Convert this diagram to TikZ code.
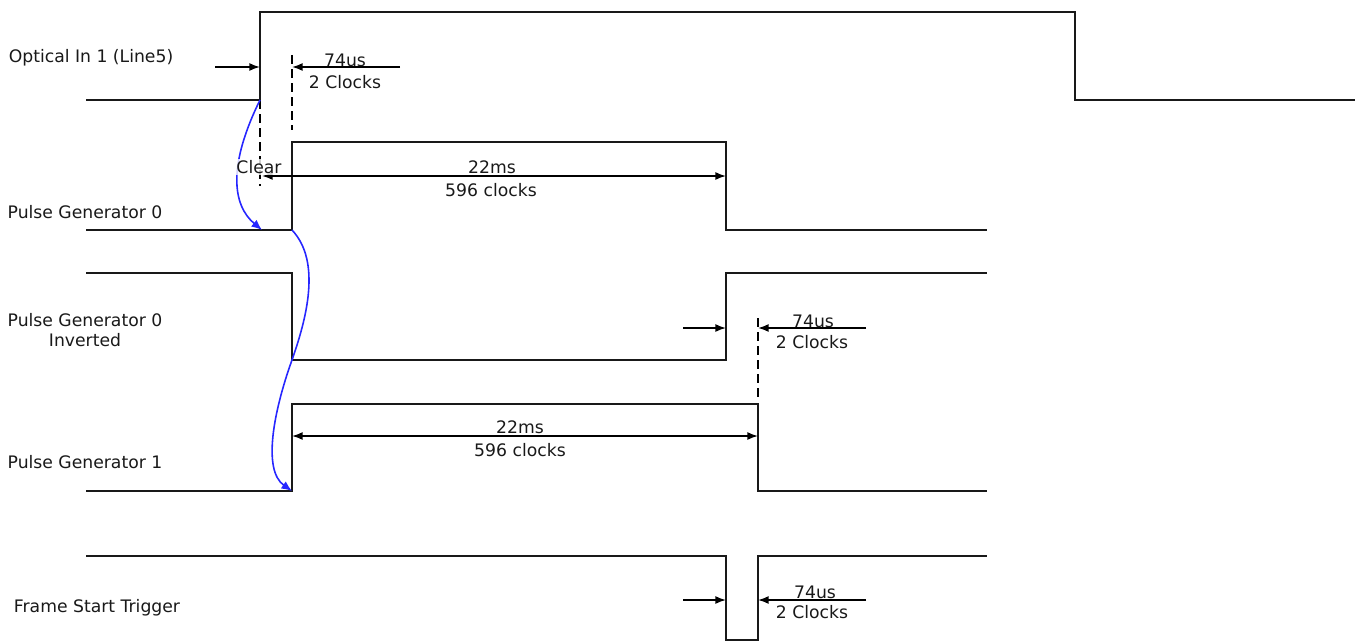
\documentclass[tikz,border=0pt]{standalone}
\usepackage{fontspec}
\setmainfont{DejaVu Sans}
\usetikzlibrary{arrows.meta,calc}
\definecolor{WaveClr}{rgb}{0.1,0.1,0.1}
\definecolor{CurveClr}{rgb}{0.15,0.15,1}

\begin{document}
\begin{tikzpicture}[x=0.02cm,y=-0.02cm,
  wave/.style={line width=1.1pt,color=WaveClr},
  tipline/.style={line width=0.9pt,-{Latex[length=6pt,width=4.5pt]}},
  dimline/.style={line width=0.9pt,{Latex[length=6pt,width=4.5pt]}-{Latex[length=6pt,width=4.5pt]}},
  guide/.style={line width=0.9pt,dash pattern=on 5pt off 3pt},
  cause/.style={line width=0.9pt,color=CurveClr,-{Latex[length=6pt,width=5pt]}},
  txt/.style={font=\fontsize{9.8}{11.5}\selectfont,text=WaveClr,inner sep=1pt,align=center}]
\useasboundingbox (0,0) rectangle (1362,642);

% signal names
\node[txt] (nOpt) at (91,58) {Optical In 1 (Line5)};
\node[txt] (nPg0) at (85,212) {Pulse Generator 0};
\node[txt] (nPgi) at (85,330) {Pulse Generator 0\\Inverted};
\node[txt] (nPg1) at (85,462) {Pulse Generator 1};
\node[txt] (nFst) at (97,608) {Frame Start Trigger};

% Optical In 1
\coordinate (oA) at (86,100);  \coordinate (oB) at (260,100);
\coordinate (oC) at (260,12);  \coordinate (oD) at (1075,12);
\coordinate (oE) at (1075,100); \coordinate (oF) at (1355,100);
\draw[wave] (oA) -- (oB) -- (oC) -- (oD) -- (oE) -- (oF);

% Pulse Generator 0
\coordinate (pA) at (86,230);  \coordinate (pB) at (292,230);
\coordinate (pC) at (292,142); \coordinate (pD) at (726,142);
\coordinate (pE) at (726,230); \coordinate (pF) at (987,230);
\draw[wave] (pA) -- (pB) -- (pC) -- (pD) -- (pE) -- (pF);

% Pulse Generator 0 Inverted
\coordinate (iA) at (86,273);  \coordinate (iB) at (292,273);
\coordinate (iC) at (292,360); \coordinate (iD) at (726,360);
\coordinate (iE) at (726,273); \coordinate (iF) at (987,273);
\draw[wave] (iA) -- (iB) -- (iC) -- (iD) -- (iE) -- (iF);

% Pulse Generator 1
\coordinate (qA) at (86,491);  \coordinate (qB) at (292,491);
\coordinate (qC) at (292,404); \coordinate (qD) at (758,404);
\coordinate (qE) at (758,491); \coordinate (qF) at (987,491);
\draw[wave] (qA) -- (qB) -- (qC) -- (qD) -- (qE) -- (qF);

% Frame Start Trigger
\coordinate (fA) at (86,556);  \coordinate (fB) at (726,556);
\coordinate (fC) at (726,640); \coordinate (fD) at (758,640);
\coordinate (fE) at (758,556); \coordinate (fF) at (987,556);
\draw[wave] (fA) -- (fB) -- (fC) -- (fD) -- (fE) -- (fF);

% guide lines
\coordinate (g1a) at (292,55);  \coordinate (g1b) at (292,130);
\coordinate (g2a) at (260,100); \coordinate (g2b) at (260,186);
\coordinate (g3a) at (758,318); \coordinate (g3b) at (758,402);
\draw[guide] (g1a) -- (g1b);
\draw[guide] (g2a) -- (g2b);
\draw[guide] (g3a) -- (g3b);

% cause curves
\draw[cause] (oB) .. controls (228,165) and (232,205) .. (262,230);
\draw[cause] (pB) .. controls (322,262) and (306,320) .. (iC)
  .. controls (274,410) and (262,470) .. (qB);

% 74us markers
\coordinate (a1) at (215,67);  \coordinate (a1e) at (260,67);
\coordinate (b1) at (400,67);  \coordinate (b1e) at (292,67);
\draw[tipline] (a1) -- (a1e);
\draw[tipline] (b1) -- (b1e);
\node[txt] (t1a) at (345,60) {74us};
\node[txt] (t1b) at (345,82) {2 Clocks};

\coordinate (a2) at (683,328); \coordinate (a2e) at (726,328);
\coordinate (b2) at (866,328); \coordinate (b2e) at (758,328);
\draw[tipline] (a2) -- (a2e);
\draw[tipline] (b2) -- (b2e);
\node[txt] (t2a) at (813,321) {74us};
\node[txt] (t2b) at (812,342) {2 Clocks};

\coordinate (a3) at (683,600); \coordinate (a3e) at (726,600);
\coordinate (b3) at (866,600); \coordinate (b3e) at (758,600);
\draw[tipline] (a3) -- (a3e);
\draw[tipline] (b3) -- (b3e);
\node[txt] (t3a) at (815,592) {74us};
\node[txt] (t3b) at (812,612) {2 Clocks};

% 22ms spans
\coordinate (d1a) at (262,176); \coordinate (d1b) at (726,176);
\draw[dimline] (d1a) -- (d1b);
\node[txt] (m1a) at (492,167) {22ms};
\node[txt] (m1b) at (491,190) {596 clocks};

\coordinate (d2a) at (292,436); \coordinate (d2b) at (758,436);
\draw[dimline] (d2a) -- (d2b);
\node[txt] (m2a) at (520,427) {22ms};
\node[txt] (m2b) at (520,450) {596 clocks};

\node[txt,fill=white,fill opacity=0.8,text opacity=1,inner sep=0.5pt] (clr) at (259,167) {Clear};

\end{tikzpicture}
\end{document}
